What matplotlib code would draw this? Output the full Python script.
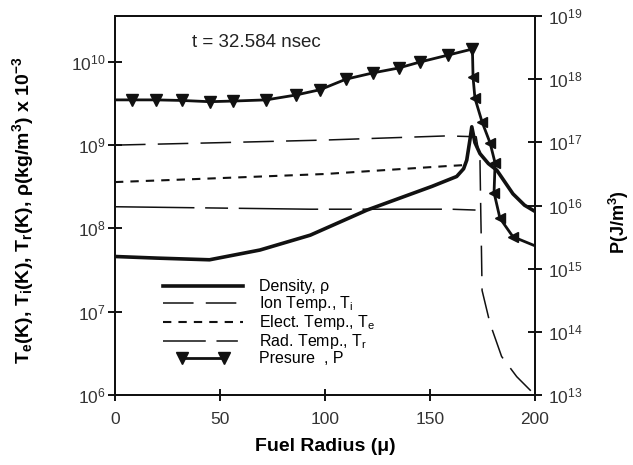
import numpy as np
import matplotlib
matplotlib.use("Agg")
import matplotlib.pyplot as plt
from matplotlib.ticker import FixedLocator, FuncFormatter, NullLocator
from matplotlib.legend_handler import HandlerLine2D
from matplotlib.lines import Line2D

plt.rcParams['font.family'] = ['Liberation Sans', 'DejaVu Sans']
plt.rcParams['mathtext.fontset'] = 'custom'
plt.rcParams['mathtext.rm'] = 'Liberation Sans'
plt.rcParams['mathtext.it'] = 'Liberation Sans:italic'
plt.rcParams['mathtext.bf'] = 'Liberation Sans:bold'
plt.rcParams['mathtext.default'] = 'regular'

# ---- data ----
# density rho (kg/m3) x 1e-3, left axis
rho_r = [0, 20, 45, 69, 93, 120, 151, 162.7, 166, 167.5, 169, 169.9, 171.4,
         173.8, 177.8, 181.8, 189.5, 195, 200]
rho_v = [4.6e7, 4.4e7, 4.2e7, 5.5e7, 8.3e7, 1.66e8, 3.2e8, 4.2e8, 5.2e8,
         6.6e8, 1.15e9, 1.66e9, 1.07e9, 7.9e8, 6.0e8, 5.0e8, 2.6e8, 1.9e8, 1.6e8]

# ion temperature Ti (K)
ti_r = [0, 50, 100, 158, 172, 173.8, 174.2, 174.5, 174.8, 178.6, 184.1, 191.3, 200]
ti_v = [1.0e9, 1.07e9, 1.15e9, 1.29e9, 1.26e9, 6.6e8, 1.45e8, 5.5e7, 1.8e7,
        7.2e6, 2.9e6, 1.66e6, 1.0e6]

# electron temperature Te (K)
te_r = [0, 37, 100, 158, 166]
te_v = [3.6e8, 3.9e8, 4.5e8, 5.6e8, 5.75e8]

# radiation temperature Tr (K)
tr_r = [0, 93, 160, 172]
tr_v = [1.82e8, 1.70e8, 1.70e8, 1.66e8]

# pressure P (J/m3), right axis
p_r = [0, 8, 19.5, 32, 45, 56, 72, 86, 97.6, 110, 123, 135, 145, 158.5, 170.2,
       170.5, 171.4, 174.8, 178.6, 181, 180.5, 183.3, 189.5, 200]
p_v = [4.7e17, 4.7e17, 4.7e17, 4.6e17, 4.4e17, 4.5e17, 4.7e17, 5.6e17, 6.8e17,
       1.0e18, 1.26e18, 1.5e18, 1.86e18, 2.4e18, 3.0e18, 1.07e18, 5.0e17,
       2.1e17, 9.8e16, 4.7e16, 1.6e16, 6.3e15, 3.2e15, 2.3e15]

x_ticks = [0, 50, 100, 150, 200]
left_ticks = [1e6, 1e7, 1e8, 1e9, 1e10]
right_ticks = [1e13, 1e14, 1e15, 1e16, 1e17, 1e18, 1e19]

fig = plt.figure(figsize=(6.33, 4.65), dpi=100)
ax = fig.add_axes([115/633, 1 - 395/465, 420/633, 379/465])
ax2 = ax.twinx()

ink = '#111111'

l_rho, = ax.plot(rho_r, rho_v, color=ink, lw=2.6, label='Density, ρ')
l_ti, = ax.plot(ti_r, ti_v, color=ink, lw=1.1, dashes=(20, 8),
                label='Ion Temp., T$_i$')
l_te, = ax.plot(te_r, te_v, color=ink, lw=1.5, dashes=(4, 3.4),
                label='Elect. Temp., T$_e$')
l_tr, = ax.plot(tr_r, tr_v, color=ink, lw=1.1, dashes=(52, 7, 15, 7),
                label='Rad. Temp., T$_r$')

l_p, = ax2.plot(p_r, p_v, color=ink, lw=2.0, marker='v', ms=8,
                markevery=list(range(1, 15)), label='Presure  , P')
ax2.plot(p_r, p_v, ls='none', color=ink, marker='<', ms=7.5,
         markevery=list(range(15, 23)))

ax.set_xlim(0, 200)
ax.set_yscale('log')
ax.set_ylim(1e6, 10**10.55)
ax2.set_yscale('log')
ax2.set_ylim(1e13, 1e19)

fmt = FuncFormatter(lambda v, p: '10$^{%d}$' % round(np.log10(v)))
ax.xaxis.set_major_locator(FixedLocator(x_ticks))
ax.yaxis.set_major_locator(FixedLocator(left_ticks))
ax.yaxis.set_minor_locator(NullLocator())
ax.yaxis.set_major_formatter(fmt)
ax2.yaxis.set_major_locator(FixedLocator(right_ticks))
ax2.yaxis.set_minor_locator(NullLocator())
ax2.yaxis.set_major_formatter(fmt)

ax.tick_params(axis='x', direction='inout', length=9, width=1.3, pad=8,
               labelsize=12.5, labelcolor='#333333')
ax.tick_params(axis='y', direction='inout', length=10, width=1.3, pad=2,
               labelsize=12.5, labelcolor='#333333')
ax2.tick_params(axis='y', direction='inout', length=10, width=1.3, pad=4,
                labelsize=12.5, labelcolor='#333333')
for a in (ax, ax2):
    for s in a.spines.values():
        s.set_linewidth(1.4)
        s.set_color(ink)

ax.set_xlabel('Fuel Radius (μ)', fontsize=14, fontweight='bold', labelpad=8)
fig.text(23/633, 1 - 210/465,
         r'T$_\mathbf{e}$(K), T$_\mathbf{i}$(K), T$_\mathbf{r}$(K), '
         r'ρ(kg/m$^\mathbf{3}$) x 10$^\mathbf{-3}$',
         rotation=90, ha='center', va='center', fontsize=14, fontweight='bold')
fig.text(619/633, 1 - 222/465, r'P(J/m$^\mathbf{3}$)', rotation=90,
         ha='center', va='center', fontsize=13, fontweight='bold')

ax.text(0.183, 0.93, 't = 32.584 nsec', transform=ax.transAxes,
        fontsize=13.5, va='center', ha='left', color='#222222')

tr_proxy = Line2D([], [], color=ink, lw=1.1, dashes=(28, 7, 14, 7))
ax.legend([l_rho, l_ti, l_te, tr_proxy, l_p],
          [l_rho.get_label(), l_ti.get_label(), l_te.get_label(),
           l_tr.get_label(), l_p.get_label()],
          loc='upper left', bbox_to_anchor=(0.114, 0.305), frameon=False,
          fontsize=11.5, handlelength=5.0, handletextpad=1.0,
          labelspacing=0.0, borderpad=0, borderaxespad=0,
          handler_map={l_p: HandlerLine2D(numpoints=2, marker_pad=1.2)})

fig.savefig('out.png', dpi=100)
